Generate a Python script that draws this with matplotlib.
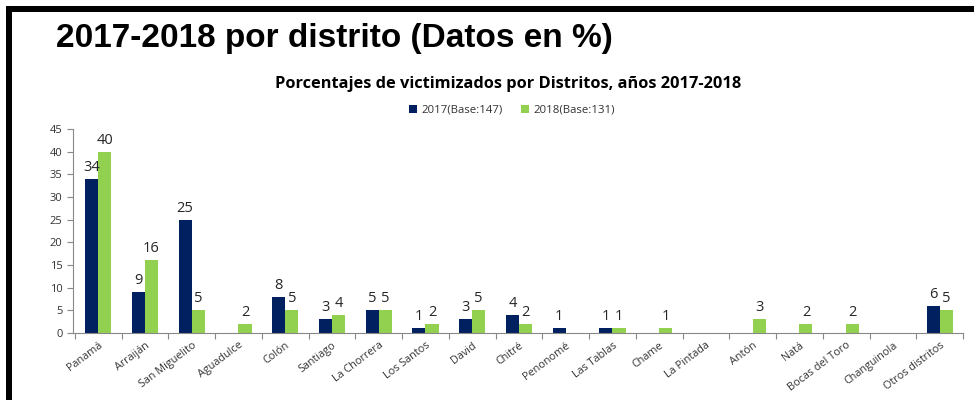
import matplotlib
matplotlib.use("Agg")
import matplotlib.pyplot as plt
from matplotlib.patches import Rectangle
import numpy as np

categories = ["Panamá", "Arraiján", "San Miguelito", "Aguadulce", "Colón", "Santiago",
              "La Chorrera", "Los Santos", "David", "Chitré", "Penonomé", "Las Tablas",
              "Chame", "La Pintada", "Antón", "Natá", "Bocas del Toro", "Changuinola",
              "Otros distritos"]
values_2017 = [34, 9, 25, 0, 8, 3, 5, 1, 3, 4, 1, 1, 0, 0, 0, 0, 0, 0, 6]
values_2018 = [40, 16, 5, 2, 5, 4, 5, 2, 5, 2, 0, 1, 1, 0, 3, 2, 2, 0, 5]
series_labels = ["2017(Base:147)", "2018(Base:131)"]
yticks = [0, 5, 10, 15, 20, 25, 30, 35, 40, 45]

W, H = 974, 400
fig = plt.figure(figsize=(W / 100, H / 100), dpi=100)
fig.patch.set_facecolor("white")

# black frame (left and top)
fig.patches.append(Rectangle((6 / W, 0), 6 / W, 1 - 6 / H, transform=fig.transFigure,
                             facecolor="black", edgecolor="none"))
fig.patches.append(Rectangle((6 / W, 1 - 12 / H), 1, 6 / H, transform=fig.transFigure,
                             facecolor="black", edgecolor="none"))

fig.text(56 / W, 1 - 39 / H, "2017-2018 por distrito (Datos en %)",
         fontsize=24, fontweight="bold", family="Liberation Sans", va="center", ha="left",
         color="black")
fig.text(508 / W, 1 - 84 / H, "Porcentajes de victimizados por Distritos, años 2017-2018",
         fontsize=11.8, fontweight="bold", family="Open Sans", va="center", ha="center",
         color="black")

left, right = 73 / W, 963 / W
bottom, top = 1 - 333 / H, 1 - 129 / H
ax = fig.add_axes([left, bottom, right - left, top - bottom])

c17 = "#002060"
c18 = "#92D050"
x = np.arange(len(categories))
bw = 0.28
b1 = ax.bar(x - bw / 2, values_2017, bw, color=c17, label=series_labels[0])
b2 = ax.bar(x + bw / 2, values_2018, bw, color=c18, label=series_labels[1])

for bars, vals in ((b1, values_2017), (b2, values_2018)):
    for rect, v in zip(bars, vals):
        if v:
            ax.annotate(str(v), (rect.get_x() + rect.get_width() / 2, v),
                        xytext=(0, 3), textcoords="offset points", ha="center",
                        va="bottom", fontsize=10.5, family="Open Sans", color="#262626")

ax.set_xlim(-0.54, len(categories) - 0.52)
ax.set_ylim(0, 45)
ax.set_yticks(yticks)
ax.tick_params(axis="y", labelsize=8, colors="#888888", labelcolor="#333333",
               length=4, width=0.8, direction="out")
for lab in ax.get_yticklabels():
    lab.set_family("Open Sans")

ax.set_xticks(x)
ax.set_xticklabels(categories, rotation=37, ha="right", rotation_mode="anchor",
                   fontsize=7.8, family="Open Sans", color="#333333")
ax.tick_params(axis="x", which="major", length=0, pad=5)
ax.set_xticks(np.arange(-0.5, len(categories), 1), minor=True)
ax.tick_params(axis="x", which="minor", length=4, width=0.8, color="#888888",
               direction="out")

for s in ("top", "right"):
    ax.spines[s].set_visible(False)
for s in ("left", "bottom"):
    ax.spines[s].set_color("#888888")
    ax.spines[s].set_linewidth(0.8)

leg = fig.legend(handles=[b1, b2], labels=series_labels, loc="center",
                 bbox_to_anchor=(512 / W, 1 - 110 / H), ncol=2, frameon=False,
                 handlelength=0.7, handleheight=0.7, handletextpad=0.4,
                 columnspacing=1.6, prop={"family": "Open Sans", "size": 8.2})
for t in leg.get_texts():
    t.set_color("#333333")

fig.savefig("out.png", dpi=100, facecolor="white")
